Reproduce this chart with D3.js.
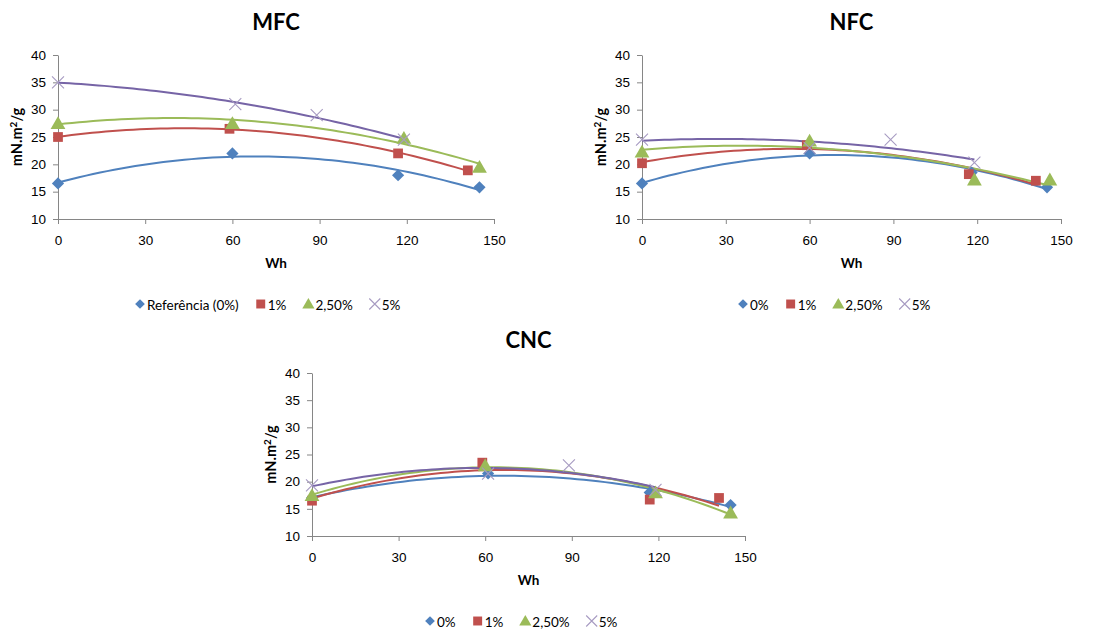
<!DOCTYPE html>
<html><head><meta charset="utf-8">
<script src="https://cdn.jsdelivr.net/npm/d3@7"></script>
<style>
body{margin:0;background:#fff;}
svg{display:block;font-family:Lato,"Open Sans",sans-serif;}
</style></head>
<body><svg id="c" width="1110" height="635"></svg>
<script>
// ---- data ----
const xTicks = [0, 30, 60, 90, 120, 150];
const yTicks = [10, 15, 20, 25, 30, 35, 40];
const seriesColors = ["#4F81BD", "#C0504D", "#9BBB59", "#7664A6"];
const markerColors = ["#4F81BD", "#C0504D", "#9BBB59", "#A79BC2"];

const mfcNames = ["Referência (0%)", "1%", "2,50%", "5%"];
const mfc0 = [[0,16.5],[60,22],[117,18],[145,15.8]];
const mfc1 = [[0,25],[59,26.5],[117,22],[141,18.9]];
const mfc25 = [[0,27.5],[60,27.5],[119,24.8],[145,19.5]];
const mfc5 = [[0,35],[61,31],[89,29],[119,24.5]];

const nfcNames = ["0%", "1%", "2,50%", "5%"];
const nfc0 = [[0,16.5],[60,22],[118,18.5],[145,15.8]];
const nfc1 = [[0,20.2],[59,23.5],[117,18.2],[141,17]];
const nfc25 = [[0,22.3],[60,24.3],[119,17.2],[146,17.2]];
const nfc5 = [[0,24.5],[60,23],[89,24.5],[119,20.3]];

const cncNames = ["0%", "1%", "2,50%", "5%"];
const cnc0 = [[0,17],[61,21.5],[117,18],[145,15.7]];
const cnc1 = [[0,16.5],[59,23.5],[117,16.7],[141,17]];
const cnc25 = [[0,17.5],[60,23],[119,18],[145,14.3]];
const cnc5 = [[0,19.3],[61,21.5],[89,23],[119,18.5]];

const panels = [
  {title:"MFC", names:mfcNames, data:[mfc0,mfc1,mfc25,mfc5], x0:58, x1:494, y0:55, y1:219, legendX:140, legendY:305},
  {title:"NFC", names:nfcNames, data:[nfc0,nfc1,nfc25,nfc5], x0:642, x1:1061, y0:55, y1:219, legendX:743, legendY:305},
  {title:"CNC", names:cncNames, data:[cnc0,cnc1,cnc25,cnc5], x0:312, x1:745, y0:373, y1:536, legendX:430, legendY:622},
];

// quadratic least squares fit
function quadFit(pts){
  let S=[0,0,0,0,0], T=[0,0,0];
  pts.forEach(([x,y])=>{let p=1;for(let k=0;k<5;k++){S[k]+=p; if(k<3)T[k]+=p*y; p*=x;}});
  const A=[[S[0],S[1],S[2],T[0]],[S[1],S[2],S[3],T[1]],[S[2],S[3],S[4],T[2]]];
  for(let i=0;i<3;i++){
    let m=i; for(let r=i+1;r<3;r++) if(Math.abs(A[r][i])>Math.abs(A[m][i])) m=r;
    [A[i],A[m]]=[A[m],A[i]];
    for(let r=0;r<3;r++){ if(r===i) continue; const f=A[r][i]/A[i][i]; for(let c=i;c<4;c++) A[r][c]-=f*A[i][c]; }
  }
  const c=[A[0][3]/A[0][0],A[1][3]/A[1][1],A[2][3]/A[2][2]];
  return x=>c[0]+c[1]*x+c[2]*x*x;
}

const svg = d3.select("#c");
const symbols = [d3.symbolDiamond2, d3.symbolSquare, d3.symbolTriangle, d3.symbolX];

function drawMarker(g, i, x, y, legend){
  const col = markerColors[i];
  if(i===3){
    const s = legend?5.5:6;
    g.append("path").attr("d",`M${x-s},${y-s}L${x+s},${y+s}M${x-s},${y+s}L${x+s},${y-s}`)
      .attr("stroke",col).attr("stroke-width",1.1).attr("fill","none");
  } else {
    const size = legend ? [60,80,64][i] : [95,95,95][i];
    let dy = i===2 ? (legend?1:1.5) : 0;
    g.append("path").attr("d", d3.symbol(symbols[i], size)())
      .attr("transform",`translate(${x},${y+dy})`).attr("fill",col);
  }
}

panels.forEach(p=>{
  const g = svg.append("g");
  const x = d3.scaleLinear().domain([0,150]).range([p.x0,p.x1]);
  const y = d3.scaleLinear().domain([10,40]).range([p.y1,p.y0]);

  // axes
  const xa = g.append("g").attr("transform",`translate(0,${p.y1})`)
    .call(d3.axisBottom(x).tickValues(xTicks).tickSize(5).tickPadding(11).tickSizeOuter(0));
  const ya = g.append("g").attr("transform",`translate(${p.x0},0)`)
    .call(d3.axisLeft(y).tickValues(yTicks).tickSize(5).tickPadding(7).tickSizeOuter(0));
  [xa,ya].forEach(a=>{
    a.selectAll("path,line").attr("stroke","#868686");
    a.selectAll("text").attr("fill","#000").style("font-size","13.5px");
  });

  // titles
  g.append("text").attr("x",(p.x0+p.x1)/2).attr("y",p.y0-25).attr("text-anchor","middle")
    .style("font-size","22px").style("font-weight","bold").text(p.title);
  g.append("text").attr("x",(p.x0+p.x1)/2).attr("y",p.y1+49).attr("text-anchor","middle")
    .style("font-size","13.5px").style("font-weight","bold").text("Wh");
  g.append("text").attr("transform",`translate(${p.x0-36},${(p.y0+p.y1)/2}) rotate(-90)`)
    .attr("text-anchor","middle").style("font-size","14.5px").style("font-weight","bold")
    .html('mN.m<tspan dy="-5" font-size="10">2</tspan><tspan dy="5">/g</tspan>');

  // trendlines
  const line = d3.line().x(d=>x(d[0])).y(d=>y(d[1]));
  p.data.forEach((pts,i)=>{
    const f = quadFit(pts);
    const xs = d3.extent(pts,d=>d[0]);
    const samp = d3.range(0,61).map(k=>{const xv=xs[0]+(xs[1]-xs[0])*k/60; return [xv,f(xv)];});
    g.append("path").attr("d",line(samp)).attr("fill","none")
      .attr("stroke",seriesColors[i]).attr("stroke-width",2);
  });
  // markers
  p.data.forEach((pts,i)=>{
    pts.forEach(d=>drawMarker(g,i,x(d[0]),y(d[1]),false));
  });

  // legend
  const lg = g.append("g");
  let cx = p.legendX;
  p.names.forEach((nm,i)=>{
    drawMarker(lg,i,cx,p.legendY-1,true);
    const t = lg.append("text").attr("x",cx+7).attr("y",p.legendY+4.5).style("font-size","13.5px").text(nm);
    cx += 7 + t.node().getComputedTextLength() + 22;
  });
});
</script></body></html>
